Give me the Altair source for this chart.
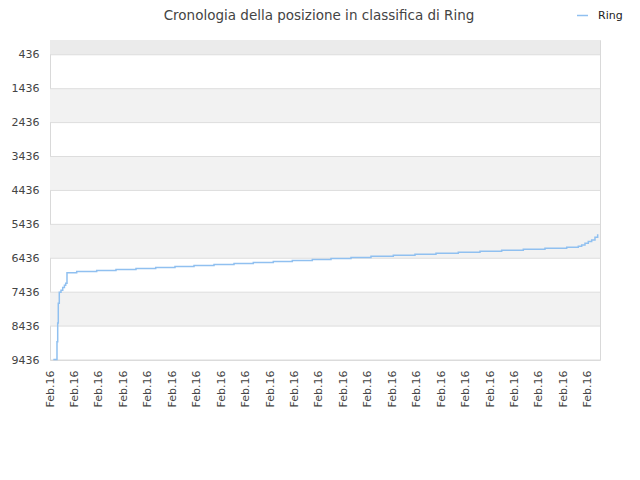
import altair as alt
import pandas as pd

# ---- data ----
serie_name = "Ring"
t_values = [0.135, 0.286, 0.315, 0.339, 0.380, 0.45, 0.52, 0.59, 0.642, 0.695,
            1.092, 1.910, 2.699, 3.517, 4.323, 5.112, 5.890, 6.708, 7.526, 8.315,
            9.133, 9.910, 10.728, 11.493, 12.311, 13.129, 14.041, 14.928, 15.787,
            16.699, 17.587, 18.474, 19.358, 20.245, 21.133, 21.607, 21.746, 21.881,
            22.016, 22.155, 22.290, 22.400]
rank_values = [9420, 8897, 8345, 7763, 7439, 7380, 7300, 7230, 7173, 6860,
               6830, 6800, 6770, 6740, 6710, 6680, 6650, 6620, 6590, 6560,
               6530, 6500, 6470, 6440, 6410, 6380, 6350, 6320, 6290,
               6260, 6230, 6200, 6170, 6140, 6110, 6085, 6043, 5993,
               5945, 5895, 5816, 5727]

y_ticks = [436, 1436, 2436, 3436, 4436, 5436, 6436, 7436, 8436, 9436]
band_start = [0, 1436, 3436, 5436, 7436]
band_end = [436, 2436, 4436, 6436, 8436]
band_color = ["#ebebeb", "#f2f2f2", "#f2f2f2", "#f2f2f2", "#f2f2f2"]
x_tick_pos = list(range(23))
x_tick_label = "Feb.16"
x_domain = [0, 22.495]
y_domain = [0, 9436]

line_color = "#90c0f0"
font = "DejaVu Sans"

df = pd.DataFrame({"t": t_values, "pos": rank_values, "serie": serie_name})
bands = pd.DataFrame({"y1": band_start, "y2": band_end, "c": band_color})
grid = pd.DataFrame({"g": y_ticks})

yscale = alt.Scale(domain=y_domain, reverse=True, nice=False, zero=False)
xscale = alt.Scale(domain=x_domain, nice=False, zero=False)

yaxis = alt.Axis(values=y_ticks, format="d", title=None, grid=False, ticks=False,
                 domain=False, labelPadding=11, labelFont=font,
                 labelFontSize=11, labelColor="#444444",
                 labelOverlap=False, labelFlush=False)

band_layer = alt.Chart(bands).mark_rect().encode(
    y=alt.Y("y1:Q", scale=yscale, axis=yaxis),
    y2="y2:Q",
    fill=alt.Fill("c:N", scale=None, legend=None),
)

grid_layer = alt.Chart(grid).mark_rule(color="#dddddd", strokeWidth=1).encode(
    y=alt.Y("g:Q", scale=yscale, axis=yaxis),
)

line_layer = alt.Chart(df).mark_line(interpolate="step-after", strokeWidth=1.5).encode(
    x=alt.X("t:Q", scale=xscale,
            axis=alt.Axis(values=x_tick_pos, labelExpr=f"'{x_tick_label}'",
                          labelAngle=-90, labelAlign="right", labelBaseline="middle",
                          title=None, grid=False, ticks=False, domain=False,
                          labelPadding=10, labelFont=font, labelFontSize=11,
                          labelColor="#444444", labelOverlap=False, labelFlush=False)),
    y=alt.Y("pos:Q", scale=yscale, axis=yaxis),
    color=alt.Color("serie:N", scale=alt.Scale(range=[line_color]),
                    legend=alt.Legend(orient="none", legendX=526, legendY=-31,
                                      title=None, symbolType="stroke",
                                      symbolStrokeWidth=1.5, symbolSize=120,
                                      labelOffset=9,
                                      labelFont=font, labelFontSize=11,
                                      labelColor="#222222")),
)

chart = alt.layer(band_layer, grid_layer, line_layer).properties(
    width=550,
    height=320,
    autosize=alt.AutoSizeParams(type="none"),
    padding={"left": 42, "top": 32, "right": 30, "bottom": 100},
    title=alt.TitleParams("Cronologia della posizione in classifica di Ring",
                          font=font, fontSize=13.5, fontWeight="normal",
                          color="#444444", anchor="middle", offset=0, dx=-6, dy=13),
).configure_view(stroke="#d9d9d9", strokeWidth=1)

chart.save("out.html", embed_options={"renderer": "svg", "actions": False})
